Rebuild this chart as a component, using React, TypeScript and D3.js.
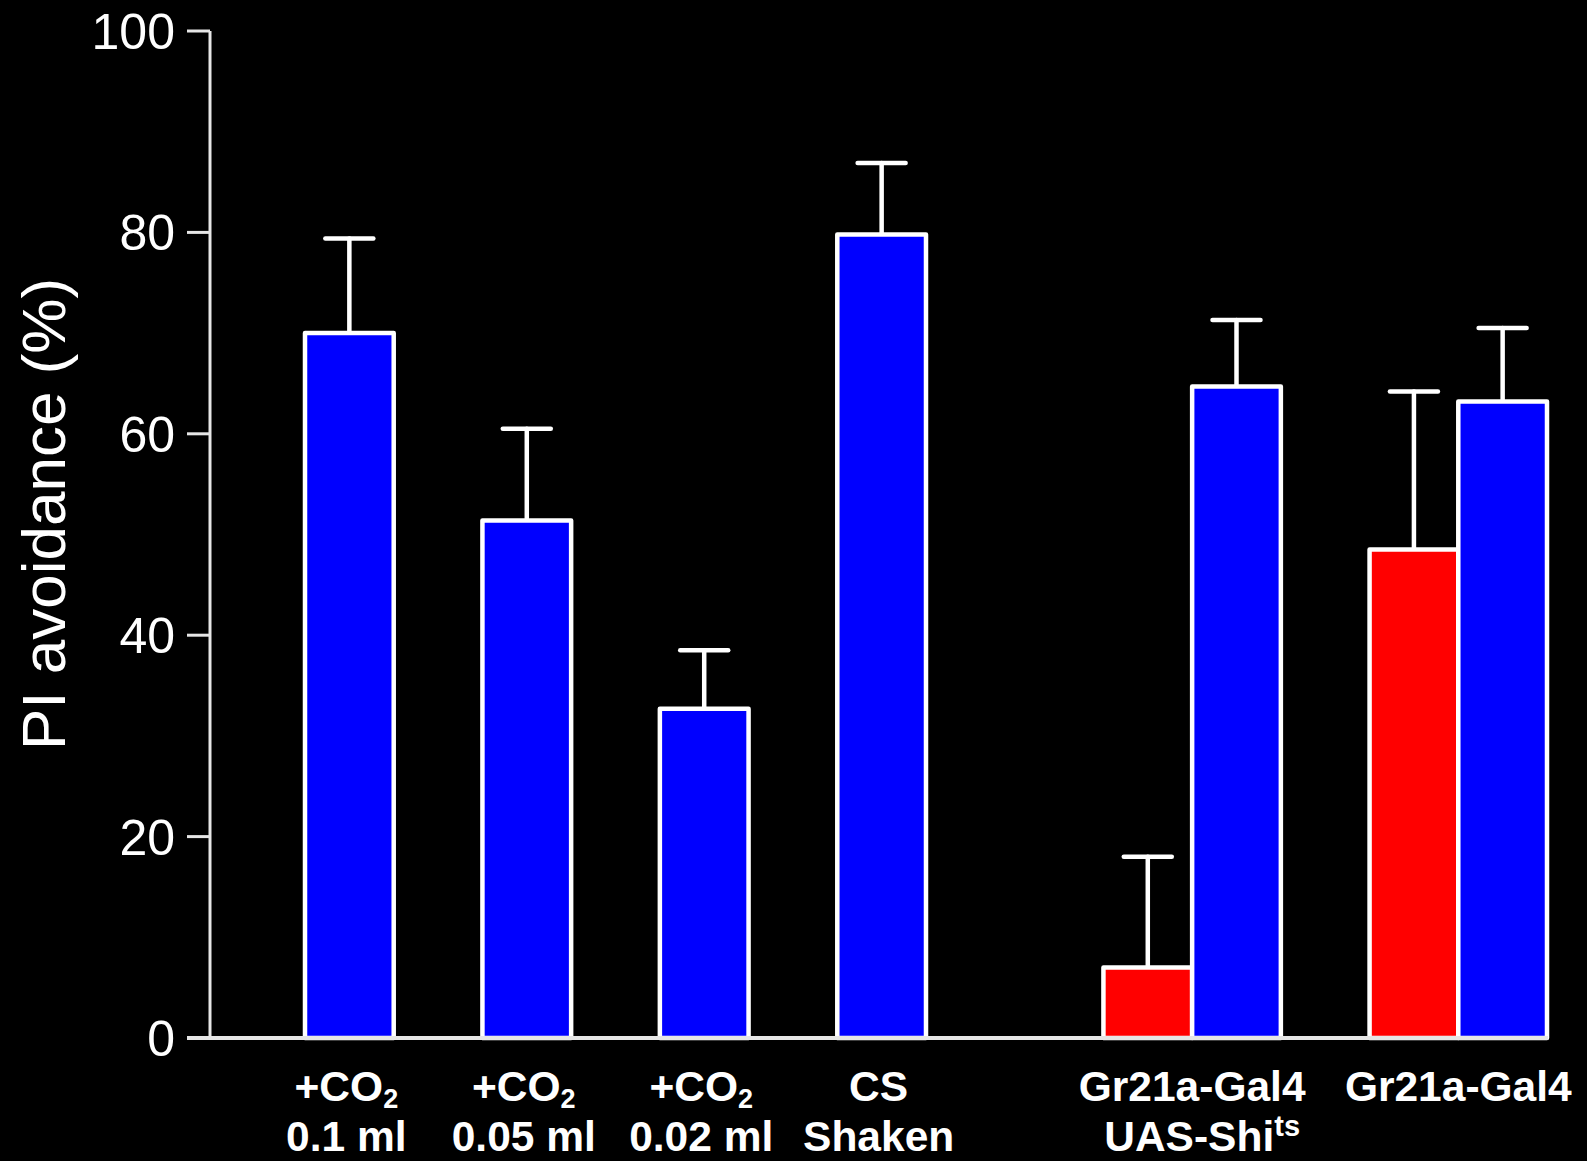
import React from "react";
import * as d3 from "d3";

// ---- data ----
const groupLine1 = ["+CO", "+CO", "+CO", "CS", "Gr21a-Gal4", "Gr21a-Gal4"];
const groupLine1Sub = ["2", "2", "2", "", "", ""];
const groupLine2 = ["0.1 ml", "0.05 ml", "0.02 ml", "Shaken", "UAS-Shi", ""];
const groupLine2Sup = ["", "", "", "", "ts", ""];

// red bars (restrictive temperature), only for the genotype groups
const redValues: (number | null)[] = [null, null, null, null, 7.0, 48.5];
const redErrors: (number | null)[] = [null, null, null, null, 11.0, 15.7];
// blue bars
const blueValues = [70.0, 51.4, 32.7, 79.8, 64.7, 63.2];
const blueErrors = [9.4, 9.1, 5.8, 7.1, 6.6, 7.3];

const yTicks = [0, 20, 40, 60, 80, 100];
const yTitle = "PI avoidance (%)";

// ---- layout ----
const W = 1587;
const H = 1161;
const slotCenter = [0.5, 2.5, 4.5, 6.5, 10, 13];
const FONT = "'Liberation Sans', Arial, Helvetica, sans-serif";
const BLUE = "#0000ff";
const RED = "#ff0000";
const AXIS = "#e6e6e6";

export default function App() {
  const x = d3.scaleLinear().domain([0, 14]).range([305, 1547]);
  const y = d3.scaleLinear().domain([0, 100]).range([1038, 31]);
  const unit = x(1) - x(0);
  const axisX = 210;
  const capHalf = 24;

  type Bar = { cx: number; v: number; e: number; color: string; key: string };
  const bars: Bar[] = [];
  blueValues.forEach((v, i) => {
    const hasRed = redValues[i] !== null;
    if (hasRed) {
      bars.push({ cx: x(slotCenter[i] - 0.5), v: redValues[i] as number, e: redErrors[i] as number, color: RED, key: `r${i}` });
      bars.push({ cx: x(slotCenter[i] + 0.5), v, e: blueErrors[i], color: BLUE, key: `b${i}` });
    } else {
      bars.push({ cx: x(slotCenter[i]), v, e: blueErrors[i], color: BLUE, key: `b${i}` });
    }
  });

  return (
    <svg
      width={W}
      height={H}
      style={{ position: "fixed", left: 0, top: 0, background: "#000" }}
      fontFamily={FONT}
    >
      <rect x={0} y={0} width={W} height={H} fill="#000" />

      {/* error bars (behind bars) */}
      {bars.map((b) => (
        <g key={"e" + b.key} stroke="#ffffff" strokeWidth={4.5} strokeLinecap="round">
          <line x1={b.cx} x2={b.cx} y1={y(b.v)} y2={y(b.v + b.e)} />
          <line x1={b.cx - capHalf} x2={b.cx + capHalf} y1={y(b.v + b.e)} y2={y(b.v + b.e)} />
        </g>
      ))}

      {/* bars */}
      {bars.map((b) => (
        <rect
          key={b.key}
          x={b.cx - unit / 2}
          y={y(b.v)}
          width={unit}
          height={y(0) - y(b.v)}
          fill={b.color}
          stroke="#ffffff"
          strokeWidth={4.5}
          strokeLinejoin="round"
        />
      ))}

      {/* y axis */}
      <line x1={axisX} x2={axisX} y1={y(100)} y2={y(0)} stroke={AXIS} strokeWidth={3} />
      {yTicks.map((t) => (
        <g key={t}>
          <line x1={187} x2={axisX} y1={y(t)} y2={y(t)} stroke={AXIS} strokeWidth={3} />
          <text x={175} y={y(t) + 18} textAnchor="end" fontSize={50} fill="#ffffff">
            {t}
          </text>
        </g>
      ))}
      {/* x baseline */}
      <line x1={187} x2={x(14) + 1} y1={y(0)} y2={y(0)} stroke={AXIS} strokeWidth={4} />

      {/* y title */}
      <text
        transform={`translate(65, ${514}) rotate(-90)`}
        textAnchor="middle"
        fontSize={62}
        fill="#ffffff"
      >
        {yTitle}
      </text>

      {/* x labels */}
      {groupLine1.map((l1, i) => {
        const cx = x(slotCenter[i]) - (i < 4 ? 3 : 0);
        return (
          <g key={"lab" + i} fill="#ffffff" fontWeight="bold">
            <text x={cx} y={1101} textAnchor="middle" fontSize={42.5}>
              {l1}
              {groupLine1Sub[i] && (
                <tspan fontSize={27} dy={7}>
                  {groupLine1Sub[i]}
                </tspan>
              )}
            </text>
            {groupLine2[i] && (
              <text x={cx + (groupLine2Sup[i] ? 10 : 0)} y={1151} textAnchor="middle" fontSize={42.5}>
                {groupLine2[i]}
                {groupLine2Sup[i] && (
                  <tspan fontSize={29} dy={-15}>
                    {groupLine2Sup[i]}
                  </tspan>
                )}
              </text>
            )}
          </g>
        );
      })}
    </svg>
  );
}
